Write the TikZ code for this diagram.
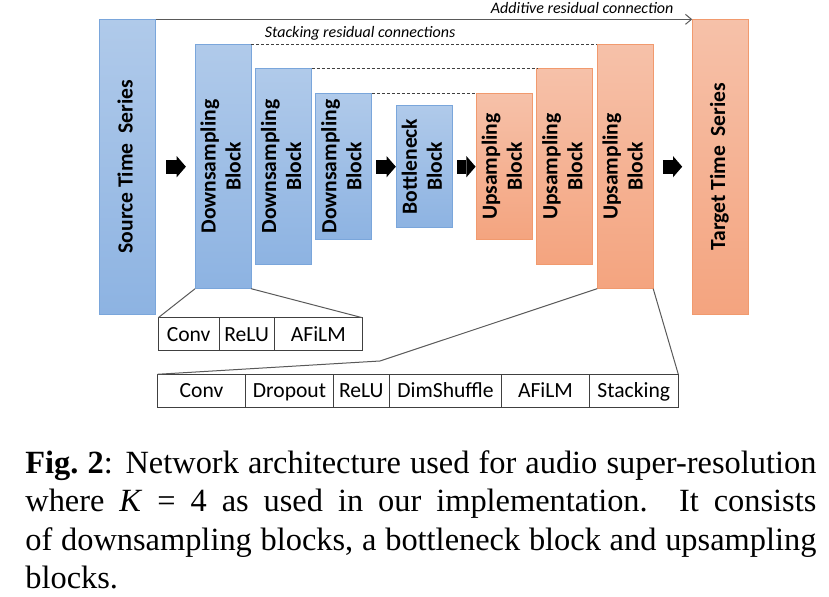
\documentclass[tikz,border=0pt]{standalone}
\usepackage{fontspec}
\setmainfont{Carlito}
\newfontfamily\capfont{Liberation Serif}
\usepackage{tikz}
\usetikzlibrary{positioning, arrows.meta}

\definecolor{blueTop}{HTML}{B0CAEA}
\definecolor{blueBot}{HTML}{8DB3E2}
\definecolor{blueLine}{HTML}{7AA6DB}
\definecolor{orangeTop}{HTML}{F6C1A9}
\definecolor{orangeBot}{HTML}{F4A47F}
\definecolor{orangeLine}{HTML}{F19A6E}
\definecolor{cellLine}{HTML}{404040}
\definecolor{zoomGray}{HTML}{595959}

\newcommand{\blocktext}[1]{\rotatebox{90}{\begin{tabular}{@{}c@{}}#1\end{tabular}}}

\begin{document}
\begin{tikzpicture}[x=0.5pt, y=-0.5pt, node distance={2.2pt},
  down/.style = {draw=blueLine, line width=0.5pt, top color=blueTop, bottom color=blueBot, minimum width=28pt, inner sep=0pt, outer sep=0pt, font=\bfseries\fontsize{10.8}{12.5}\selectfont},
  up/.style = {down, draw=orangeLine, top color=orangeTop, bottom color=orangeBot},
  cell/.style = {draw=cellLine, line width=0.5pt, inner sep=0pt, outer sep=0pt, minimum height=16.5pt, text height=7pt, text depth=0pt, font=\fontsize{10.8}{12}\selectfont},
  fat/.style = {line width=7pt, -{Triangle[length=4.6pt, width=10.6pt, line width=0pt]}},
  lab/.style = {font=\itshape\fontsize{8}{9}\selectfont, inner sep=2pt},
  zoomline/.style = {draw=zoomGray, line width=0.5pt}]
\useasboundingbox (0,0) rectangle (829,597);

% blocks
\node[down, minimum height=147.35pt] (src) at (127.5,166.7) {\blocktext{Source Time\ \ Series}};
\node[down, minimum height=122pt, right=19.8pt of src] (d1) {\blocktext{Downsampling\\Block}};
\node[down, minimum height=97.85pt, right=of d1] (d2) {\blocktext{Downsampling\\Block}};
\node[down, minimum height=73pt, right=of d2] (d3) {\blocktext{Downsampling\\Block}};
\node[down, minimum height=61.2pt, right=12.25pt of d3] (bn) {\blocktext{Bottleneck\\Block}};
\node[up, minimum height=73pt, right=12pt of bn] (u1) {\blocktext{Upsampling\\Block}};
\node[up, minimum height=97.85pt, right=of u1] (u2) {\blocktext{Upsampling\\Block}};
\node[up, minimum height=122pt, right=of u2] (u3) {\blocktext{Upsampling\\Block}};
\node[up, minimum height=147.35pt, right=19.5pt of u3] (tgt) {\blocktext{Target Time\ \ Series}};

% block arrows
\draw[fat, shorten <=5.3pt, shorten >=4.6pt] (src.east) -- (d1.west);
\draw[fat, shorten <=2.2pt, shorten >=0.3pt] (d3.east) -- (bn.west);
\draw[fat, shorten <=2.5pt, shorten >=0.4pt] (bn.east) -- (u1.west);
\draw[fat, shorten <=4.8pt, shorten >=5pt] (u3.east) -- (tgt.west);

% residual connections
\draw[draw=zoomGray, line width=0.5pt, -{Straight Barb[length=3pt, width=5pt]}] (src.north east) -- node[pos=0.795, above=0.4pt, lab] {Additive residual connection} (tgt.north west);
\draw[draw=cellLine, line width=0.4pt, dash pattern=on 1.5pt off 1pt] (d1.north east) -- node[pos=0.315, above, lab] {Stacking residual connections} (u3.north west);
\draw[draw=cellLine, line width=0.4pt, dash pattern=on 1.5pt off 1pt] (d2.north east) -- (u2.north west);
\draw[draw=cellLine, line width=0.4pt, dash pattern=on 1.5pt off 1pt] (d3.north east) -- (u1.north west);

% downsampling block layers
\node[cell, minimum width=30.35pt, anchor=north west] (sconv) at (158.3,317.7) {Conv};
\node[cell, minimum width=27.65pt, right=0pt of sconv] (srelu) {ReLU};
\node[cell, minimum width=44pt, right=0pt of srelu] (safilm) {AFiLM};

% upsampling block layers
\node[cell, minimum width=44.2pt, anchor=north west] (lconv) at (157.3,374.3) {Conv};
\node[cell, minimum width=43.8pt, right=0pt of lconv] (ldrop) {Dropout};
\node[cell, minimum width=28pt, right=0pt of ldrop] (lrelu) {ReLU};
\node[cell, minimum width=56.2pt, right=0pt of lrelu] (lshuf) {DimShuffle};
\node[cell, minimum width=43.8pt, right=0pt of lshuf] (lafilm) {AFiLM};
\node[cell, minimum width=44.5pt, right=0pt of lafilm] (lstack) {Stacking};

% zoom lines
\coordinate (bend) at (380,361);
\draw[zoomline] (d1.south west) -- (sconv.north west);
\draw[zoomline] (d1.south east) -- (safilm.north east);
\draw[zoomline] (u3.south west) -- (bend) -- (lconv.north west);
\draw[zoomline] (u3.south east) -- (lstack.north east);

% caption
\node[anchor=north west, text width=395.5pt, inner sep=0pt, align=justify, font=\capfont\fontsize{16.2}{19.25}\selectfont] (caption) at (25,449.8)
  {\textbf{Fig.\ 2}: Network architecture used for audio super-resolution\linebreak where \textit{K} = 4 as used in our implementation.  It consists\linebreak of downsampling blocks, a bottleneck block and upsampling\linebreak blocks.};
\end{tikzpicture}
\end{document}
